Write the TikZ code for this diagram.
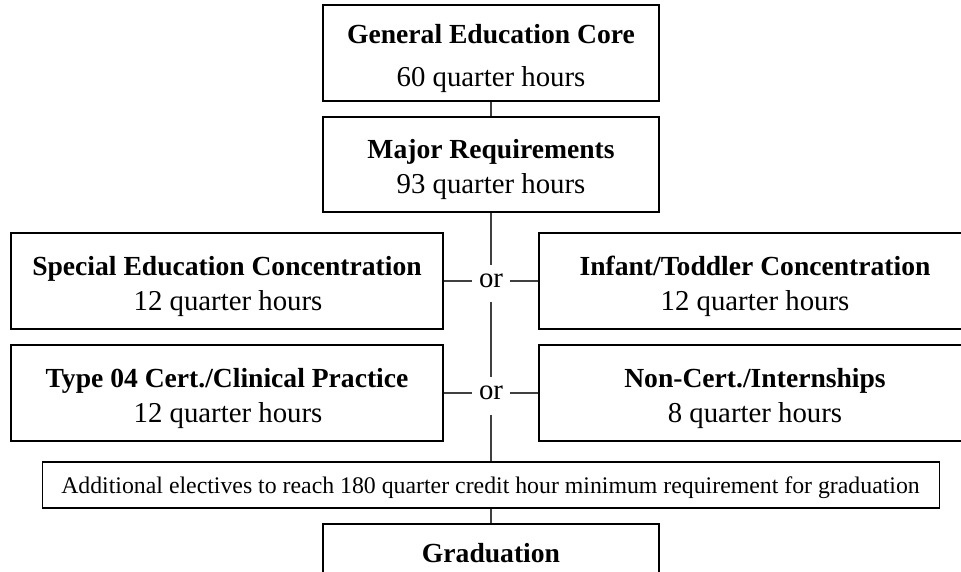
\documentclass[tikz,border=0pt]{standalone}
\usepackage{fontspec}
\setmainfont{Liberation Serif}
\begin{document}
\begin{tikzpicture}[x=1pt,y=-1pt,
  box/.style={draw=black, line width=1.2pt, inner sep=0pt, minimum width=#1, minimum height=96pt},
  conn/.style={draw=black!75, line width=1.2pt},
  head/.style={anchor=base, inner sep=0pt, font=\fontsize{27.6}{32}\selectfont\bfseries},
  sub/.style={anchor=base, inner sep=0pt, font=\fontsize{28.8}{33}\selectfont},
  ornode/.style={inner xsep=6.5pt, inner ysep=10pt, text height=12pt, text depth=5pt, minimum width=36pt, font=\fontsize{28.8}{33}\selectfont}
]
\useasboundingbox (0,0) rectangle (961,571);
\clip (0,0) rectangle (961,571);
% boxes
\node[box=336pt] (gen) at (491,53) {};
\node[box=336pt, minimum height=95pt] (major) at (491,164.5) {};
\node[box=432pt] (spec) at (227,281) {};
\node[box=432pt] (inf) at (755,281) {};
\node[box=432pt] (type) at (227,393) {};
\node[box=432pt] (noncert) at (755,393) {};
\node[box=897pt, minimum height=46pt] (elect) at (491,485) {};
\node[box=336pt] (grad) at (491,572) {};
% or nodes
\node[ornode] (or1) at (491,283.5) {or};
\node[ornode] (or2) at (491,396) {or};
% texts
\node[head] (genT) at (491,43) {General Education Core};
\node[sub] (genS) at (491,86) {60 quarter hours};
\node[head] (majorT) at (491,158) {Major Requirements};
\node[sub] (majorS) at (491,193) {93 quarter hours};
\node[head] (specT) at (227,275) {Special Education Concentration};
\node[sub] (specS) at (228,310) {12 quarter hours};
\node[head] (infT) at (755,275) {Infant/Toddler Concentration};
\node[sub] (infS) at (755,310) {12 quarter hours};
\node[head] (typeT) at (227,387) {Type 04 Cert./Clinical Practice};
\node[sub] (typeS) at (228,422) {12 quarter hours};
\node[head] (noncertT) at (755,387) {Non-Cert./Internships};
\node[sub] (noncertS) at (755,422) {8 quarter hours};
\node[anchor=base, inner sep=0pt, font=\fontsize{23.8}{28}\selectfont] (electT) at (490.5,493) {Additional electives to reach 180 quarter credit hour minimum requirement for graduation};
\node[head] (gradT) at (491,562) {Graduation};
% connectors
\draw[conn] (gen) -- (major);
\draw[conn] (major) -- (or1);
\draw[conn] (or1) -- (or2);
\draw[conn] (or2) -- (elect);
\draw[conn] (elect) -- (grad);
\draw[conn] (spec.east) -- (spec.east -| or1.west);
\draw[conn] (inf.west) -- (inf.west -| or1.east);
\draw[conn] (type.east) -- (type.east -| or2.west);
\draw[conn] (noncert.west) -- (noncert.west -| or2.east);
\end{tikzpicture}
\end{document}
